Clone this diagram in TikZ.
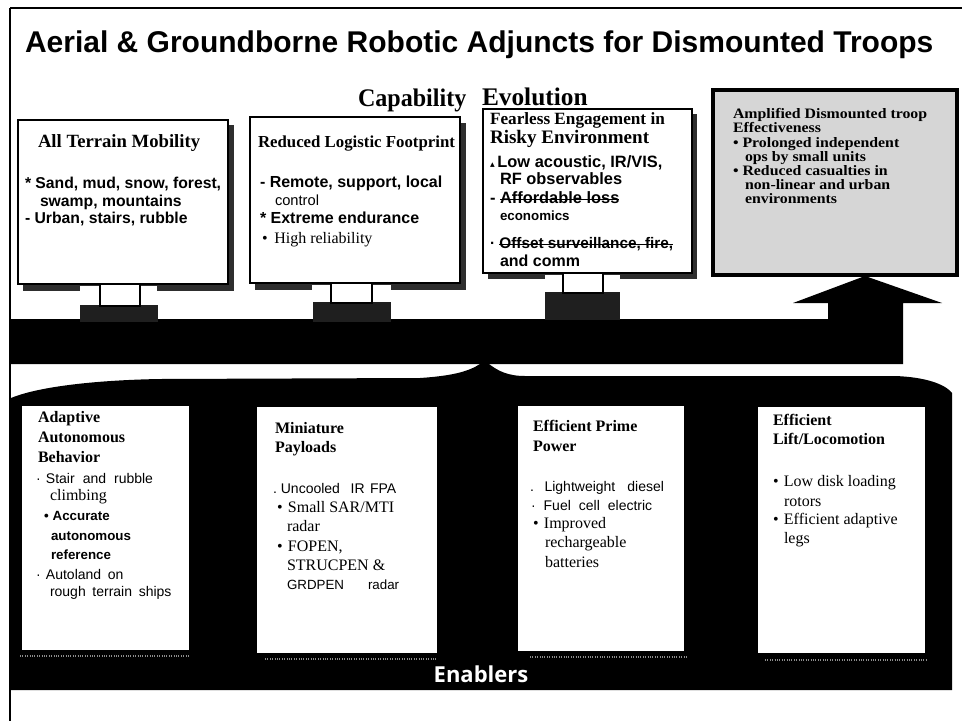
\documentclass[tikz,border=0pt]{standalone}
\usepackage{fontspec}
\usepackage{graphicx}
\setmainfont{Liberation Serif}
\newfontfamily\SansF{Liberation Sans}
\newfontfamily\SerF{Liberation Serif}
\newfontfamily\OpenF{Open Sans}
\newfontfamily\DejaF{DejaVu Sans}
\newcommand\SaB[1]{\SansF\bfseries\fontsize{#1}{#1}\selectfont}
\newcommand\SaR[1]{\SansF\mdseries\fontsize{#1}{#1}\selectfont}
\newcommand\SeB[1]{\SerF\bfseries\fontsize{#1}{#1}\selectfont}
\newcommand\SeR[1]{\SerF\mdseries\fontsize{#1}{#1}\selectfont}
\newcommand\putline[4]{\node[txt] (#1) at (#2,#3) {#4};}
\newcommand\widetxt[1]{\scalebox{1.1}[1]{\SeB{10.8}#1}}
\newsavebox\strkbox
\newcommand\strk[1]{\sbox\strkbox{#1}\rlap{\raisebox{0.32ex}{\rule{\wd\strkbox}{0.7pt}}}\usebox\strkbox}
\begin{document}
\begin{tikzpicture}[x=0.75pt,y=-0.75pt,
  txt/.style={anchor=base west,inner sep=0pt,outer sep=0pt},
  shadowfill/.style={fill=black!82},
  capbox/.style={draw=black,fill=white,line width=1.4pt},
  linkbox/.style={draw=black,fill=white,line width=1pt},
  basefill/.style={fill=black!88},
  enabbox/.style={fill=white},
  dotline/.style={draw=black!45,line width=0.8pt,densely dotted}]
\useasboundingbox (0,0) rectangle (962,721);
\fill[white] (0,0) rectangle (962,721);
% frame
\draw[line width=2.2pt] (10,8) -- (962,8);
\draw[line width=0.9pt] (10,8) -- (10,721);
% title
\node[txt] (title) at (25,52) {\SaB{22.5}Aerial \& Groundborne Robotic Adjuncts for Dismounted Troops};
\node[txt] (cap) at (358,106) {\scalebox{0.95}[1]{\SeB{19}Capability}};
\node[txt,inner ysep=0pt] (evo) at (482,105) {\SeB{19}Evolution};
% band with arrow
\fill[black] (11,319) -- (828,319) -- (828,303) -- (793,303) -- (865,276) -- (942,303) -- (903,303) -- (903,364) -- (11,364) -- cycle;
% bottom brace region
\fill[black] (11,398) .. controls (40,386) and (100,380) .. (160,379) -- (420,378)
  .. controls (450,376) and (468,372) .. (480,364) -- (489,364)
  .. controls (498,371) and (508,376) .. (525,376) -- (895,376)
  .. controls (925,377) and (945,384) .. (952,393) -- (952,690) -- (11,690) -- cycle;
% top box 1
\fill[shadowfill] (23,125) rectangle (234,291);
\draw[capbox] (18,120) rectangle (228,284);
\fill[white] (80,285.5) rectangle (157,305);
\fill[basefill] (80,305) rectangle (158,322);
\draw[linkbox] (100,284) rectangle (140,306);
% top box 2
\fill[shadowfill] (255,123) rectangle (466,290);
\draw[capbox] (250,117) rectangle (460,283);
\fill[white] (312,284.5) rectangle (391,302);
\fill[basefill] (313,302) rectangle (391,322);
\draw[linkbox] (331,283) rectangle (372,303);
% top box 3
\fill[shadowfill] (488,114) rectangle (697,279);
\draw[capbox] (483,109) rectangle (692,273);
\fill[white] (545,274.5) rectangle (620,292);
\fill[basefill] (545,292) rectangle (620,320);
\draw[linkbox] (563,273) rectangle (603,293);
% top box 4
\draw[line width=2.4pt,fill=black!16] (713,90) rectangle (957,275);
% enabler boxes
\fill[enabbox] (22,406) rectangle (189,650);
\fill[enabbox] (257,407) rectangle (437,653);
\fill[enabbox] (518,406) rectangle (684,651);
\fill[enabbox] (758,407) rectangle (925,653);
\draw[dotline] (20,656) -- (190,656);
\draw[dotline] (265,659) -- (437,659);
\draw[dotline] (530,657) -- (688,657);
\draw[dotline] (765,660) -- (928,660);
% box 1 text
\putline{t1h}{38}{147}{\SeB{14}All Terrain Mobility}
\putline{t1a}{25}{188}{\SaB{11.8}* Sand, mud, snow, forest,}
\putline{t1b}{40}{206}{\SaB{11.8}swamp, mountains}
\putline{t1c}{25}{223}{\SaB{11.8}- Urban, stairs, rubble}
% box 2 text
\putline{t2h}{258}{147}{\SeB{12.6}Reduced Logistic Footprint}
\putline{t2a}{260}{187}{\SaB{12}- Remote, support, local}
\putline{t2b}{275}{205}{\SaR{11}control}
\putline{t2c}{260}{223}{\SaB{12}* Extreme endurance}
\putline{t2d}{262}{243}{\SeR{12}\textbullet\hspace{5pt}High reliability}
% box 3 text
\putline{t3h}{490}{124}{\SeB{12.9}Fearless Engagement in}
\putline{t3i}{490}{143}{\SeB{14.3}Risky Environment}
\putline{t3a}{490}{167}{\SaB{12.3}{\DejaF\fontsize{7}{7}\selectfont ▴}\,Low acoustic, IR/VIS,}
\putline{t3b}{500}{184}{\SaB{12.3}RF observables}
\putline{t3c}{490}{203}{\SaB{12.3}- \strk{Affordable loss}}
\putline{t3d}{500}{220}{\SaB{10}economics}
\putline{t3e}{490}{248}{\SaB{11.5}· \strk{Offset surveillance, fire,}}
\putline{t3f}{500}{266}{\SaB{12}and comm}
% box 4 text
\putline{t4h}{733}{118}{\widetxt{Amplified Dismounted troop}}
\putline{t4i}{733}{132}{\widetxt{Effectiveness}}
\putline{t4a}{733}{147}{\widetxt{\textbullet\ Prolonged independent}}
\putline{t4b}{745}{161}{\widetxt{ops by small units}}
\putline{t4c}{733}{175}{\widetxt{\textbullet\ Reduced casualties in}}
\putline{t4d}{745}{189}{\widetxt{non-linear and urban}}
\putline{t4e}{745}{203}{\widetxt{environments}}
% enabler A
\putline{eAh1}{38}{422}{\SeB{12}Adaptive}
\putline{eAh2}{38}{442}{\SeB{12}Autonomous}
\putline{eAh3}{38}{462}{\SeB{12}Behavior}
\putline{eA1}{36}{483}{\SaR{10.5}·\hspace{4pt}Stair\hspace{6pt}and\hspace{6pt}rubble}
\putline{eA2}{50}{500}{\SeR{12}climbing}
\putline{eA3}{44}{520}{\SaB{10}\textbullet\hspace{3pt}Accurate}
\putline{eA4}{51}{540}{\SaB{10}autonomous}
\putline{eA5}{51}{559}{\SaB{10}reference}
\putline{eA6}{36}{579}{\SaR{10.5}·\hspace{4pt}Autoland\hspace{5pt}on}
\putline{eA7}{50}{596}{\SaR{10.5}rough\hspace{5pt}terrain\hspace{5pt}ships}
% enabler B
\putline{eBh1}{275}{433}{\SeB{12}Miniature}
\putline{eBh2}{275}{452}{\SeB{12}Payloads}
\putline{eB1}{273}{493}{\SaR{10.5}.\hspace{3pt}Uncooled\hspace{8pt}IR\hspace{4pt}FPA}
\putline{eB2}{277}{512}{\SeR{12}\textbullet\hspace{4pt}Small SAR/MTI}
\putline{eB3}{287}{531}{\SeR{12}radar}
\putline{eB4}{277}{551}{\SeR{12}\textbullet\hspace{4pt}FOPEN,}
\putline{eB5}{287}{570}{\SeR{12}STRUCPEN \&}
\putline{eB6}{287}{589}{\SaR{10}GRDPEN\hspace{18pt}radar}
% enabler C
\putline{eCh1}{533}{431}{\SeB{12}Efficient Prime}
\putline{eCh2}{533}{451}{\SeB{12}Power}
\putline{eC1}{530}{491}{\SaR{10.5}.\hspace{8pt}Lightweight\hspace{9pt}diesel}
\putline{eC2}{531}{510}{\SaR{10.5}·\hspace{6pt}Fuel\hspace{6pt}cell\hspace{6pt}electric}
\putline{eC3}{533}{528}{\SeR{12}\textbullet\hspace{4pt}Improved}
\putline{eC4}{545}{547}{\SeR{12}rechargeable}
\putline{eC5}{545}{567}{\SeR{12}batteries}
% enabler D
\putline{eDh1}{773}{425}{\SeB{12}Efficient}
\putline{eDh2}{773}{444}{\SeB{12}Lift/Locomotion}
\putline{eD1}{773}{486}{\SeR{12}\textbullet\hspace{4pt}Low disk loading}
\putline{eD2}{784}{506}{\SeR{12}rotors}
\putline{eD3}{773}{524}{\SeR{12}\textbullet\hspace{4pt}Efficient adaptive}
\putline{eD4}{784}{543}{\SeR{12}legs}
% enablers label
\node[anchor=base,inner sep=0pt,text=white] (enab) at (481,682) {\OpenF\bfseries\fontsize{16.5}{16.5}\selectfont Enablers};
\end{tikzpicture}
\end{document}
